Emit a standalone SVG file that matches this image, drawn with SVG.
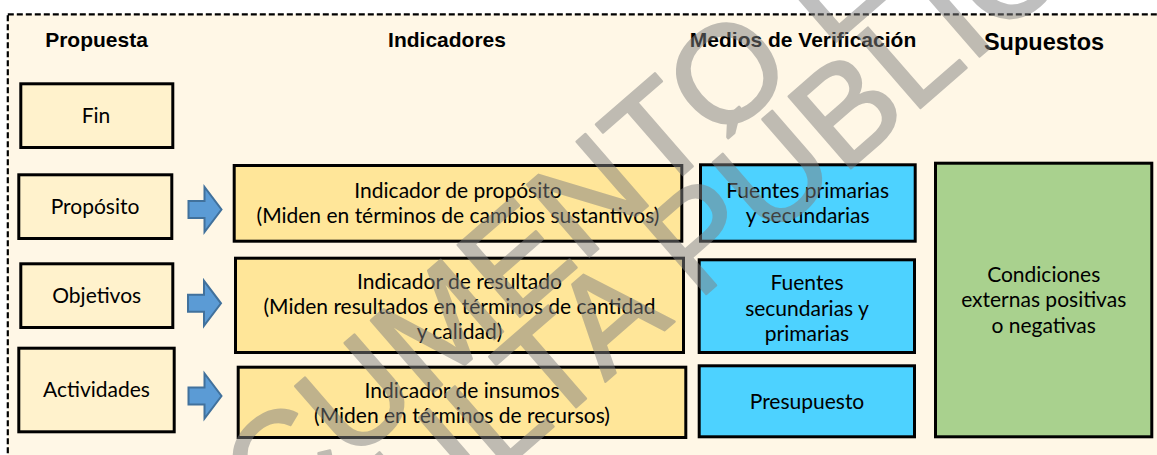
<svg xmlns="http://www.w3.org/2000/svg" width="1157" height="455" viewBox="0 0 1157 455">
<style>
.frame{fill:#fff7e6;stroke:#000;stroke-width:2.2;stroke-dasharray:6 3}
.hdr{font-family:"Liberation Sans",Arial,sans-serif;font-weight:bold;font-size:21px;fill:#000;text-anchor:middle}
.box{stroke:#000;stroke-width:3}
.lt{fill:#fff2cc}
.ind{fill:#ffe699}
.src{fill:#4dd2ff}
.sup{fill:#a9d18e}
.t{font-family:Lato,"Noto Sans",sans-serif;font-size:21px;fill:#000;text-anchor:middle}
.arrow{fill:#5b9bd5;stroke:#41719c;stroke-width:2}
.wm{font-family:"Liberation Sans",Arial,sans-serif;font-size:138px;fill:#808080;stroke:#808080;stroke-width:2.5;stroke-linejoin:round}
</style>
<defs>
<path id="blockArrow" d="M0,-8.5 H16 V-22.5 L33,0 L16,22.5 V8.5 H0 Z"/>
</defs>
<rect width="1157" height="455" fill="#ffffff"/>
<rect class="frame" x="7.8" y="14.3" width="1200" height="500"/>
<g id="headers">
<text class="hdr" x="96.5" y="47">Propuesta</text>
<text class="hdr" x="447" y="47">Indicadores</text>
<text class="hdr" x="803" y="47">Medios de Verificación</text>
<text class="hdr" x="1044" y="50" style="font-size:23.5px">Supuestos</text>
</g>
<g id="fin">
<rect class="box lt" x="20.8" y="83.8" width="152" height="63.7"/>
<text class="t" x="96" y="123.3">Fin</text>
</g>
<g id="proposito">
<rect class="box lt" x="18.8" y="174.8" width="153" height="63.7"/>
<text class="t" x="95" y="214.3">Propósito</text>
</g>
<g id="objetivos">
<rect class="box lt" x="20.8" y="263.8" width="152" height="63.7"/>
<text class="t" x="96.7" y="303.3">Objetivos</text>
</g>
<g id="actividades">
<rect class="box lt" x="18.8" y="348.2" width="155.4" height="83.6"/>
<text class="t" x="96.5" y="396.7">Actividades</text>
</g>
<g id="connectors">
<use href="#blockArrow" class="arrow" transform="translate(188.5,209.5)"/>
<use href="#blockArrow" class="arrow" transform="translate(188,303.3)"/>
<use href="#blockArrow" class="arrow" transform="translate(188.5,396)"/>
</g>
<g id="ind-proposito">
<rect class="box ind" x="234.2" y="165.5" width="447.6" height="75.7"/>
<text class="t" x="458" y="198.3">Indicador de propósito</text>
<text class="t" x="458" y="223.3">(Miden en términos de cambios sustantivos)</text>
</g>
<g id="ind-resultado">
<rect class="box ind" x="235.5" y="258.2" width="448" height="94.3"/>
<text class="t" x="459.5" y="289">Indicador de resultado</text>
<text class="t" x="459.5" y="314">(Miden resultados en términos de cantidad</text>
<text class="t" x="459.5" y="339">y calidad)</text>
</g>
<g id="ind-insumos">
<rect class="box ind" x="238.2" y="367.2" width="447.6" height="70.3"/>
<text class="t" x="462" y="398.3">Indicador de insumos</text>
<text class="t" x="462" y="423.3">(Miden en términos de recursos)</text>
</g>
<g id="src-1">
<rect class="box src" x="700.5" y="164.8" width="214.7" height="76.4"/>
<text class="t" x="807.7" y="198.3">Fuentes primarias</text>
<text class="t" x="807.7" y="223.3">y secundarias</text>
</g>
<g id="src-2">
<rect class="box src" x="699.2" y="259.8" width="215.3" height="92.7"/>
<text class="t" x="807" y="290">Fuentes</text>
<text class="t" x="807" y="315.5">secundarias y</text>
<text class="t" x="807" y="340.5">primarias</text>
</g>
<g id="src-3">
<rect class="box src" x="699.2" y="365.8" width="215.3" height="71"/>
<text class="t" x="807" y="409.3">Presupuesto</text>
</g>
<g id="supuestos">
<rect class="box sup" x="935.5" y="163.2" width="216.3" height="273.6"/>
<text class="t" x="1043.7" y="282.3">Condiciones</text>
<text class="t" x="1043.7" y="307.3">externas positivas</text>
<text class="t" x="1043.7" y="332.7">o negativas</text>
</g>
<g id="watermark" opacity="0.5">
<text class="wm" transform="translate(118,666) rotate(-41)">DOCUMENTO EN</text>
<text class="wm" transform="translate(123,801) rotate(-41)">CONSULTA PÚBLICA</text>
</g>
</svg>
